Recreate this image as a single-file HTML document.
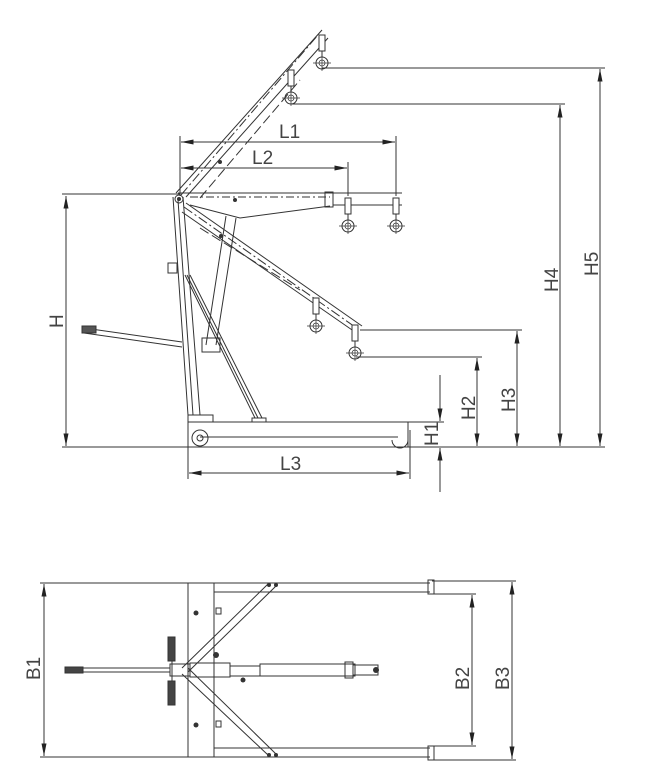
<!DOCTYPE html>
<html><head><meta charset="utf-8"><style>
html,body{margin:0;padding:0;background:#fff}
svg{display:block}
text{font-family:"Liberation Sans",sans-serif;font-size:19px;fill:#444}
</style></head><body>
<svg width="658" height="778" viewBox="0 0 658 778" xmlns="http://www.w3.org/2000/svg">
<defs>
<marker id="a" viewBox="0 0 10 4" refX="10" refY="2" markerWidth="16" markerHeight="5" markerUnits="userSpaceOnUse" orient="auto-start-reverse"><path d="M0,0L10,2L0,4z" fill="#222"/></marker>
<g id="hook"><rect x="-3" y="0" width="6" height="16" fill="#fff" stroke="#333" stroke-width="1"/><line x1="0" y1="16" x2="0" y2="22" stroke="#333"/><circle cx="0" cy="28" r="6" fill="none" stroke="#333"/><circle cx="0" cy="28" r="3" fill="none" stroke="#333" stroke-width=".7"/><line x1="-9" y1="28" x2="9" y2="28" stroke="#333" stroke-width=".7"/><line x1="0" y1="20" x2="0" y2="36" stroke="#333" stroke-width=".7"/></g>
</defs>
<g stroke="#333" stroke-width="1" fill="none">
<line x1="62" y1="447" x2="605" y2="447"/>
<line x1="62" y1="194" x2="180" y2="194"/>
<line x1="180" y1="136" x2="180" y2="196"/>
<line x1="396" y1="136" x2="396" y2="196"/>
<line x1="348" y1="162" x2="348" y2="196"/>
<line x1="188" y1="420" x2="188" y2="479"/>
<line x1="410" y1="430" x2="410" y2="479"/>
<line x1="322" y1="68" x2="605" y2="68"/>
<line x1="292" y1="104" x2="565" y2="104"/>
<line x1="360" y1="330" x2="522" y2="330"/>
<line x1="356" y1="357" x2="482" y2="357"/>
<line x1="408" y1="422" x2="444" y2="422"/>
<g marker-start="url(#a)" marker-end="url(#a)">
<line x1="66" y1="196" x2="66" y2="446"/>
<line x1="181" y1="142" x2="395" y2="142"/>
<line x1="181" y1="168" x2="347" y2="168"/>
<line x1="189" y1="473" x2="409" y2="473"/>
<line x1="600" y1="69" x2="600" y2="446"/>
<line x1="560" y1="105" x2="560" y2="446"/>
<line x1="517" y1="331" x2="517" y2="446"/>
<line x1="477" y1="358" x2="477" y2="446"/>
<line x1="44" y1="584" x2="44" y2="756"/>
<line x1="472" y1="595" x2="472" y2="745"/>
<line x1="512" y1="582" x2="512" y2="759"/>
</g>
<line x1="440" y1="375" x2="440" y2="421" marker-end="url(#a)"/>
<line x1="440" y1="492" x2="440" y2="448" marker-end="url(#a)"/>
<line x1="188" y1="422" x2="408" y2="422"/>
<line x1="200" y1="437" x2="398" y2="437"/>
<line x1="408" y1="422" x2="408" y2="447"/>
<rect x="188" y="415" width="25" height="7"/>
<circle cx="200" cy="438" r="8"/><circle cx="200" cy="438" r="3"/>
<path d="M392,440 A8,8 0 0 0 408,440"/>
<rect x="252" y="418" width="14" height="4"/>
<path d="M173,197L188,415M183,197L200,415M178,200L193,415"/>
<path d="M185,275L255,418M190,275L262,418M187,275L258,418"/>
<path d="M226,216L206,345M236,218L216,345"/>
<rect x="202" y="338" width="18" height="14"/>
<rect x="168" y="263" width="9" height="10"/>
<path d="M84,328L182,342M84,333L182,347"/>
<rect x="82" y="326" width="14" height="7" fill="#555"/>
<line x1="178" y1="193" x2="402" y2="193"/>
<line x1="190" y1="197" x2="330" y2="197" stroke-dasharray="8,3,2,3"/>
<path d="M190,205L240,218L330,206"/>
<rect x="325" y="192" width="8" height="15"/>
<line x1="333" y1="205" x2="402" y2="205"/>
<path d="M176,193L322,30M186,197L328,38"/>
<path d="M181,195L318,35" stroke-dasharray="10,3,2,3"/>
<path d="M200,198L300,80" stroke-dasharray="10,4"/>
<path d="M186,203L362,326M182,212L355,332"/>
<path d="M184,207L358,329" stroke-dasharray="10,3,2,3"/>
<path d="M200,228L300,290" stroke-dasharray="10,4"/>
<circle cx="179" cy="199" r="4"/>
</g>
<g fill="#333"><circle cx="179" cy="199" r="2"/><circle cx="220" cy="162" r="2"/><circle cx="221" cy="236" r="2"/><circle cx="235" cy="200" r="2"/></g>
<use href="#hook" x="322" y="35"/>
<use href="#hook" x="291" y="70"/>
<use href="#hook" x="348" y="198"/>
<use href="#hook" x="396" y="198"/>
<use href="#hook" x="316" y="298"/>
<use href="#hook" x="355" y="325"/>
<g stroke="#333" stroke-width="1" fill="none">
<line x1="40" y1="583" x2="430" y2="583"/>
<line x1="40" y1="757" x2="430" y2="757"/>
<line x1="188" y1="583" x2="188" y2="757"/>
<line x1="214" y1="583" x2="214" y2="757"/>
<line x1="214" y1="592" x2="430" y2="592"/>
<line x1="214" y1="748" x2="430" y2="748"/>
<rect x="428" y="580" width="6" height="14"/><rect x="428" y="746" width="6" height="14"/>
<line x1="432" y1="594" x2="476" y2="594"/><line x1="432" y1="746" x2="476" y2="746"/>
<line x1="432" y1="581" x2="516" y2="581"/><line x1="432" y1="760" x2="516" y2="760"/>
<path d="M182,668L268,584M188,672L276,586M182,674L268,755M188,668L276,754"/>
<rect x="65" y="668" width="105" height="4"/>
<rect x="65" y="667" width="18" height="6" fill="#444"/>
<line x1="172" y1="655" x2="172" y2="685"/>
<rect x="168" y="637" width="7" height="24" fill="#444"/><rect x="168" y="681" width="7" height="24" fill="#444"/>
<rect x="170" y="664" width="20" height="12"/>
<rect x="190" y="663" width="40" height="14"/>
<rect x="230" y="666" width="30" height="10"/>
<rect x="260" y="664" width="95" height="12"/>
<rect x="345" y="662" width="8" height="16"/>
<rect x="353" y="665" width="25" height="10"/>
<rect x="216" y="608" width="5" height="6"/><rect x="216" y="721" width="5" height="6"/>
</g>
<g fill="#333"><circle cx="196" cy="613" r="2.5"/><circle cx="196" cy="725" r="2.5"/><circle cx="216" cy="655" r="3"/><circle cx="243" cy="680" r="2.5"/><circle cx="269" cy="585" r="2"/><circle cx="276" cy="585" r="2"/><circle cx="269" cy="755" r="2"/><circle cx="276" cy="755" r="2"/><circle cx="376" cy="670" r="3"/></g>
<text x="279" y="138" font-size="20">L1</text>
<text x="252" y="164" font-size="20">L2</text>
<text x="280" y="470" font-size="20">L3</text>
<text transform="translate(63,328) rotate(-90)" font-size="20">H</text>
<text transform="translate(438,446) rotate(-90)" font-size="18">H1</text>
<text transform="translate(475,420) rotate(-90)" font-size="20">H2</text>
<text transform="translate(515,412) rotate(-90)" font-size="20">H3</text>
<text transform="translate(558,292) rotate(-90)" font-size="20">H4</text>
<text transform="translate(598,276) rotate(-90)" font-size="20">H5</text>
<text transform="translate(40,680) rotate(-90)" font-size="20">B1</text>
<text transform="translate(469,690) rotate(-90)" font-size="22">B2</text>
<text transform="translate(509,690) rotate(-90)" font-size="22">B3</text>
</svg>
</body></html>
